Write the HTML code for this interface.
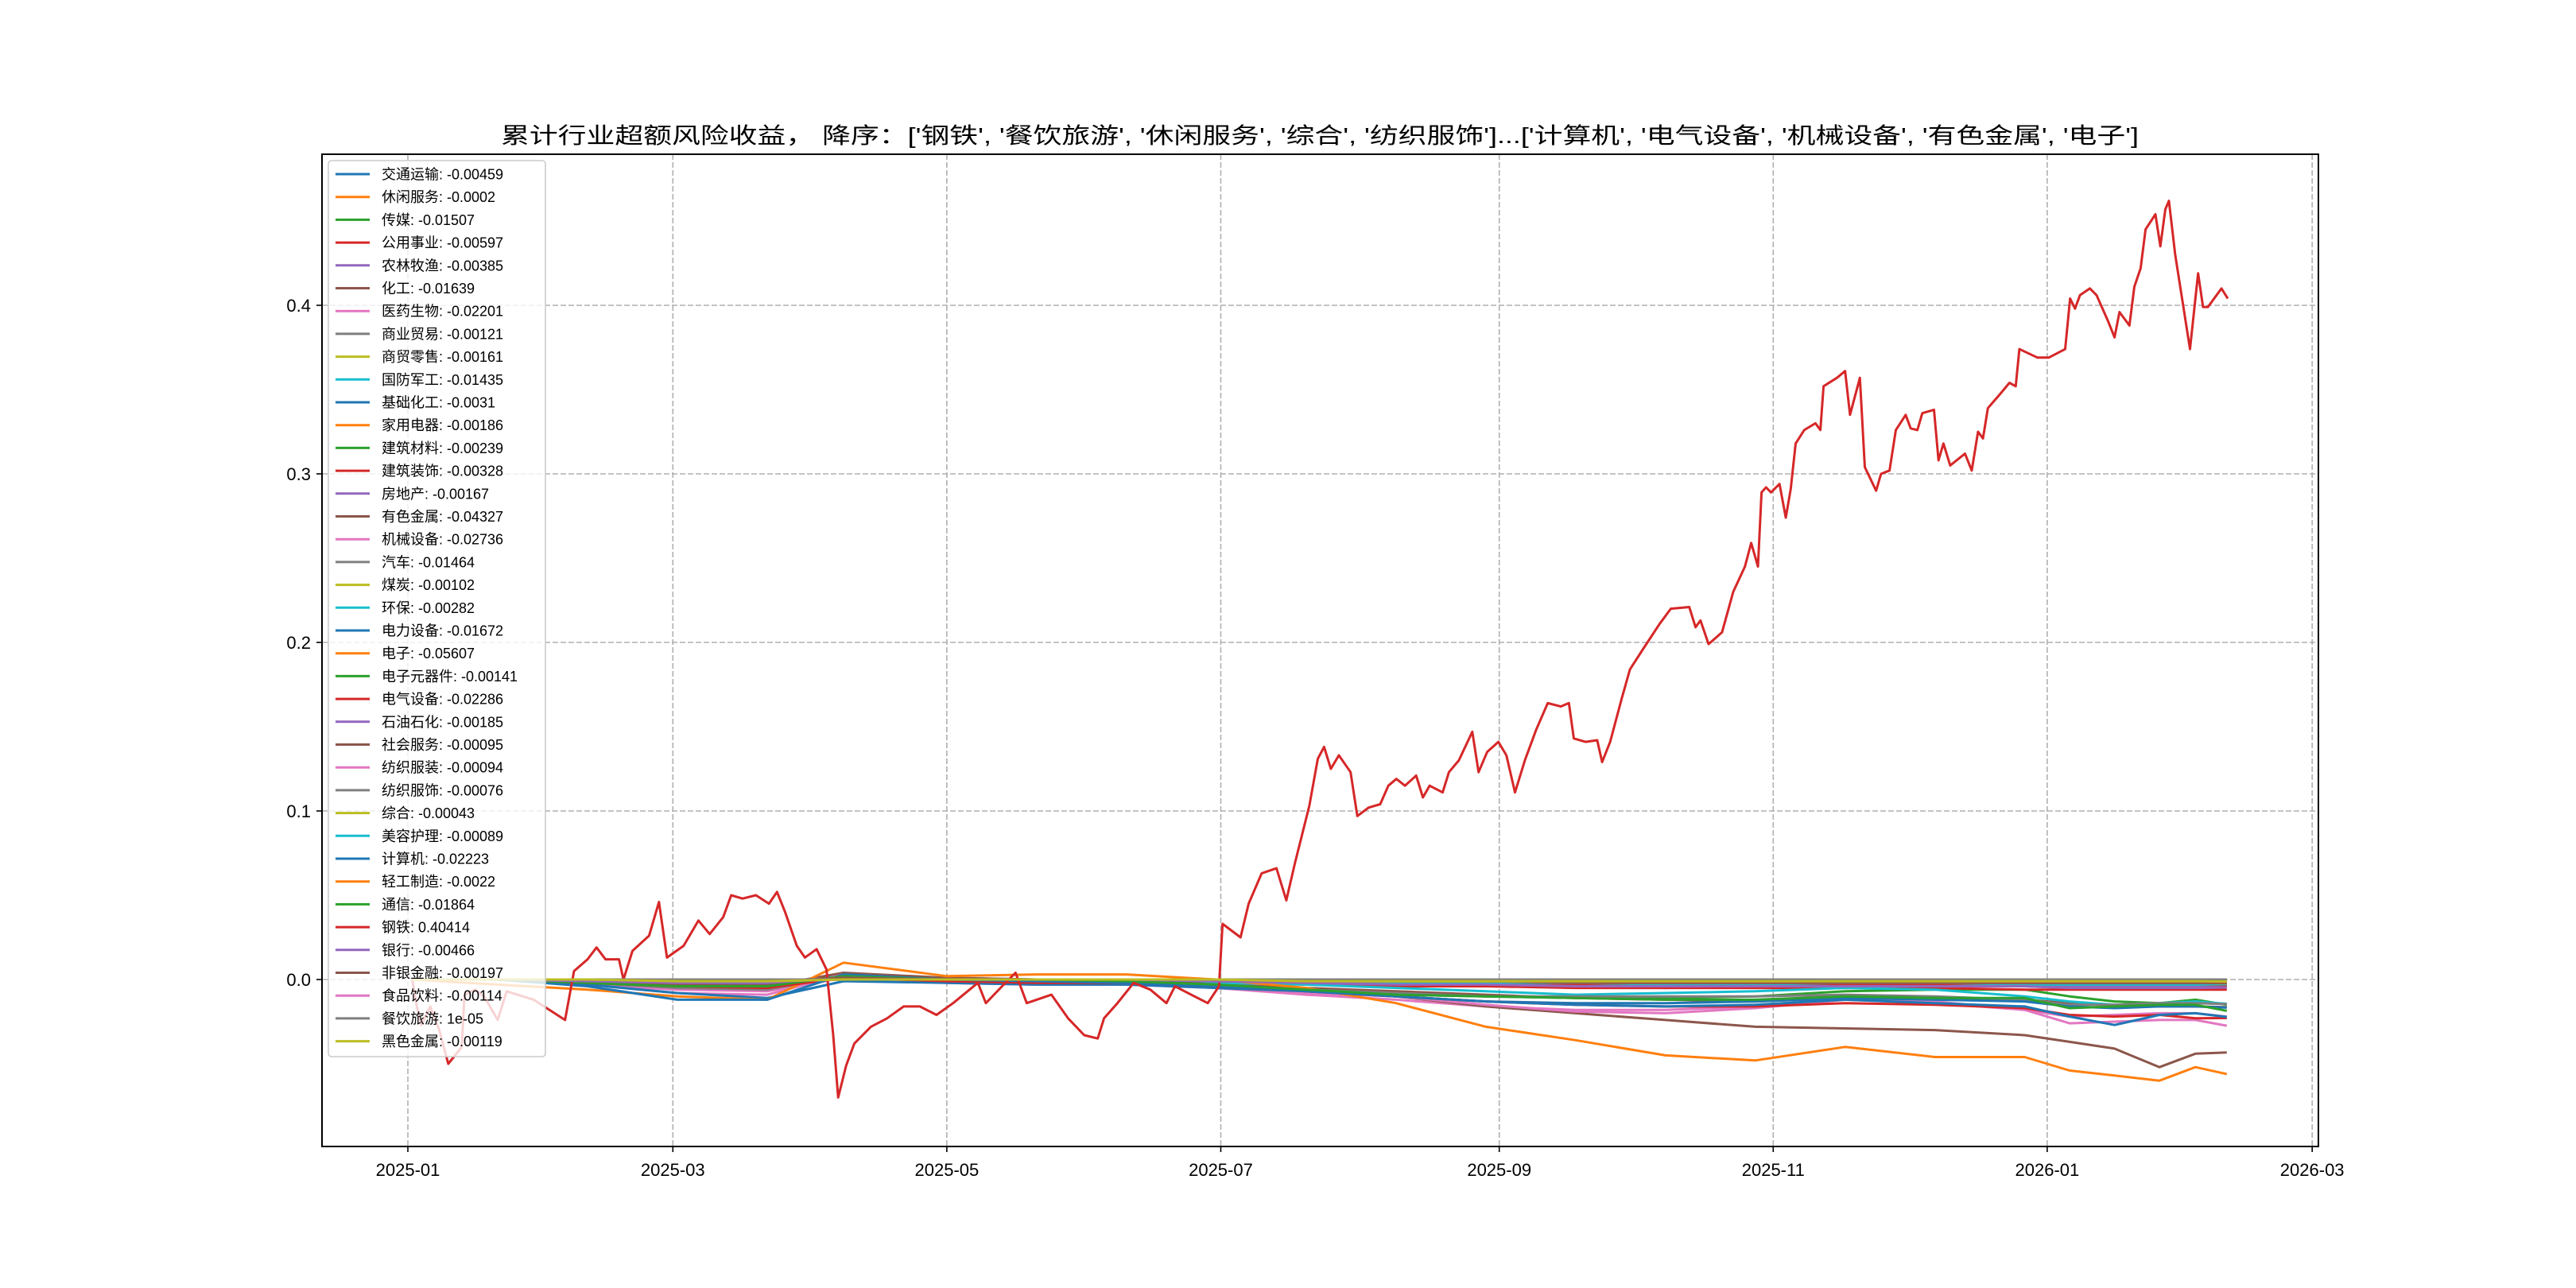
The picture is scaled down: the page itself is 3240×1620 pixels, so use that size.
<!DOCTYPE html>
<html><head><meta charset="utf-8"><title>累计行业超额风险收益</title>
<style>
html,body{margin:0;padding:0;background:#fff;}
svg{display:block;font-family:"Liberation Sans","Noto Sans CJK SC",sans-serif;}
</style></head>
<body>
<svg id="chart" width="3240" height="1620" viewBox="0 0 3240 1620" xmlns="http://www.w3.org/2000/svg">
<defs><clipPath id="plotclip"><rect x="405" y="194" width="2511" height="1248"/></clipPath></defs>
<rect x="0" y="0" width="3240" height="1620" fill="#fff"/>
<text x="1660" y="180" font-size="28" text-anchor="middle" textLength="2060" lengthAdjust="spacingAndGlyphs">累计行业超额风险收益，  降序：['钢铁', '餐饮旅游', '休闲服务', '综合', '纺织服饰']...['计算机', '电气设备', '机械设备', '有色金属', '电子']</text>
<g id="grid"></g>
<g id="series" clip-path="url(#plotclip)"></g>
<g id="axes"></g>
<g id="legend"></g>
</svg>
<script>
const xTickDays = [0, 59, 120, 181, 243, 304, 365, 424];
const xTickLabels = ['2025-01','2025-03','2025-05','2025-07','2025-09','2025-11','2026-01','2026-03'];
const yTickValues = [0, 0.1, 0.2, 0.3, 0.4];
const yTickLabels = ['0.0','0.1','0.2','0.3','0.4'];
const gridDays = [1,20,40,60,80,97,120,140,160,180,200,220,240,260,280,300,320,340,360,370,380,390,398,405];
const industryNames = ['交通运输','休闲服务','传媒','公用事业','农林牧渔','化工','医药生物','商业贸易','商贸零售','国防军工','基础化工','家用电器','建筑材料','建筑装饰','房地产','有色金属','机械设备','汽车','煤炭','环保','电力设备','电子','电子元器件','电气设备','石油石化','社会服务','纺织服装','纺织服饰','综合','美容护理','计算机','轻工制造','通信','钢铁','银行','非银金融','食品饮料','餐饮旅游','黑色金属'];
const finalLabels = ['-0.00459','-0.0002','-0.01507','-0.00597','-0.00385','-0.01639','-0.02201','-0.00121','-0.00161','-0.01435','-0.0031','-0.00186','-0.00239','-0.00328','-0.00167','-0.04327','-0.02736','-0.01464','-0.00102','-0.00282','-0.01672','-0.05607','-0.00141','-0.02286','-0.00185','-0.00095','-0.00094','-0.00076','-0.00043','-0.00089','-0.02223','-0.0022','-0.01864','0.40414','-0.00466','-0.00197','-0.00114','1e-05','-0.00119'];
const seriesValues = [
[0,0,-0.002,-0.004,-0.003,0.002,0,0,0,-0.001,-0.002,-0.003,-0.004,-0.004,-0.005,-0.004,-0.004,-0.004,-0.004,-0.005,-0.005,-0.005,-0.004,-0.0046],
[0,0,0,-0.001,-0.001,0.001,0,0,0,0,0,0,-0.001,-0.001,-0.001,0,0,0,0,0,0,0,0,-0.0002],
[0,0,-0.002,-0.004,-0.004,0.002,0,0,-0.001,-0.003,-0.006,-0.009,-0.01,-0.011,-0.011,-0.01,-0.007,-0.006,-0.006,-0.01,-0.013,-0.014,-0.012,-0.015],
[0,0,-0.001,-0.002,-0.002,0.001,0,-0.001,-0.001,-0.002,-0.003,-0.004,-0.004,-0.005,-0.005,-0.005,-0.005,-0.005,-0.006,-0.006,-0.006,-0.006,-0.006,-0.006],
[0,0,0,-0.001,-0.001,0.001,0.001,0,0,-0.001,-0.001,-0.002,-0.002,-0.003,-0.003,-0.003,-0.003,-0.003,-0.003,-0.004,-0.004,-0.004,-0.004,-0.0039],
[0,0,-0.002,-0.003,-0.003,0.002,0,0,-0.001,-0.003,-0.005,-0.007,-0.009,-0.011,-0.012,-0.013,-0.011,-0.011,-0.012,-0.014,-0.015,-0.016,-0.016,-0.0164],
[0,0,-0.003,-0.006,-0.007,0.001,-0.002,-0.003,-0.003,-0.005,-0.009,-0.012,-0.016,-0.018,-0.018,-0.016,-0.012,-0.014,-0.018,-0.022,-0.021,-0.02,-0.02,-0.022],
[0,0,0,-0.001,-0.001,0,0,0,0,0,-0.001,-0.001,-0.001,-0.001,-0.001,-0.001,-0.001,-0.001,-0.001,-0.001,-0.001,-0.001,-0.001,-0.0012],
[0,0,0,-0.001,-0.001,0,0,0,0,0,-0.001,-0.001,-0.001,-0.001,-0.002,-0.002,-0.001,-0.001,-0.002,-0.002,-0.002,-0.002,-0.002,-0.0016],
[0,0,-0.001,-0.002,-0.002,0.002,0,0,-0.001,-0.002,-0.003,-0.005,-0.007,-0.009,-0.008,-0.007,-0.005,-0.006,-0.01,-0.013,-0.015,-0.014,-0.013,-0.0144],
[0,0,-0.001,-0.002,-0.002,0.001,0,0,0,-0.001,-0.001,-0.002,-0.002,-0.003,-0.003,-0.003,-0.003,-0.003,-0.003,-0.003,-0.003,-0.003,-0.003,-0.0031],
[0,0,0,-0.001,-0.001,0.001,0,0,0,0,-0.001,-0.001,-0.001,-0.002,-0.002,-0.002,-0.002,-0.002,-0.002,-0.002,-0.002,-0.002,-0.002,-0.0019],
[0,0,0,-0.001,-0.001,0.001,0,0,0,-0.001,-0.001,-0.001,-0.002,-0.002,-0.002,-0.002,-0.002,-0.002,-0.002,-0.002,-0.002,-0.002,-0.002,-0.0024],
[0,0,-0.001,-0.001,-0.001,0.001,0,0,0,-0.001,-0.001,-0.002,-0.002,-0.003,-0.003,-0.003,-0.003,-0.003,-0.003,-0.003,-0.003,-0.003,-0.003,-0.0033],
[0,0,0,-0.001,-0.001,0.001,0,0,0,0,-0.001,-0.001,-0.001,-0.001,-0.002,-0.002,-0.002,-0.002,-0.002,-0.002,-0.002,-0.002,-0.002,-0.0017],
[0,0,-0.002,-0.003,-0.004,0.004,0.001,0,0,-0.003,-0.006,-0.01,-0.016,-0.02,-0.024,-0.028,-0.029,-0.03,-0.033,-0.037,-0.041,-0.052,-0.044,-0.0433],
[0,0,-0.003,-0.008,-0.009,0.003,-0.002,-0.003,-0.003,-0.004,-0.008,-0.01,-0.015,-0.019,-0.02,-0.017,-0.012,-0.013,-0.018,-0.026,-0.025,-0.024,-0.024,-0.0274],
[0,0,-0.002,-0.005,-0.006,0.002,-0.001,-0.002,-0.002,-0.004,-0.006,-0.008,-0.01,-0.01,-0.01,-0.01,-0.009,-0.01,-0.012,-0.015,-0.015,-0.014,-0.014,-0.0146],
[0,0,0,0,-0.001,0,0,0,0,0,0,-0.001,-0.001,-0.001,-0.001,-0.001,-0.001,-0.001,-0.001,-0.001,-0.001,-0.001,-0.001,-0.001],
[0,0,-0.001,-0.001,-0.001,0.001,0,0,0,-0.001,-0.001,-0.002,-0.002,-0.002,-0.003,-0.003,-0.002,-0.002,-0.003,-0.003,-0.003,-0.003,-0.003,-0.0028],
[0,0,-0.003,-0.008,-0.011,-0.001,-0.002,-0.003,-0.003,-0.005,-0.007,-0.01,-0.013,-0.014,-0.014,-0.013,-0.011,-0.012,-0.013,-0.016,-0.017,-0.016,-0.016,-0.0167],
[0,-0.003,-0.006,-0.01,-0.012,0.01,0.002,0.003,0.003,0,-0.005,-0.014,-0.028,-0.036,-0.045,-0.048,-0.04,-0.046,-0.046,-0.054,-0.057,-0.06,-0.052,-0.0561],
[0,0,0,-0.001,-0.001,0,0,0,0,0,-0.001,-0.001,-0.001,-0.001,-0.001,-0.001,-0.001,-0.001,-0.001,-0.001,-0.001,-0.001,-0.001,-0.0014],
[0,0,-0.002,-0.004,-0.005,0.001,-0.001,-0.002,-0.002,-0.004,-0.007,-0.01,-0.013,-0.015,-0.016,-0.016,-0.014,-0.015,-0.017,-0.021,-0.022,-0.021,-0.023,-0.0229],
[0,0,0,-0.001,-0.001,0.001,0,0,0,0,-0.001,-0.001,-0.001,-0.002,-0.002,-0.002,-0.002,-0.002,-0.002,-0.002,-0.002,-0.002,-0.002,-0.0019],
[0,0,0,0,-0.001,0,0,0,0,0,0,0,-0.001,-0.001,-0.001,-0.001,-0.001,-0.001,-0.001,-0.001,-0.001,-0.001,-0.001,-0.001],
[0,0,0,0,-0.001,0,0,0,0,0,0,0,-0.001,-0.001,-0.001,-0.001,-0.001,-0.001,-0.001,-0.001,-0.001,-0.001,-0.001,-0.0009],
[0,0,0,0,0,0,0,0,0,0,0,0,-0.001,-0.001,-0.001,-0.001,-0.001,-0.001,-0.001,-0.001,-0.001,-0.001,-0.001,-0.0008],
[0,0,0,0,0,0,0,0,0,0,0,0,0,0,0,0,0,0,0,0,0,0,0,-0.0004],
[0,0,0,0,-0.001,0,0,0,0,0,0,0,-0.001,-0.001,-0.001,-0.001,-0.001,-0.001,-0.001,-0.001,-0.001,-0.001,-0.001,-0.0009],
[0,0,-0.004,-0.012,-0.012,0.003,0,-0.001,-0.002,-0.004,-0.007,-0.01,-0.013,-0.015,-0.016,-0.015,-0.012,-0.014,-0.016,-0.022,-0.027,-0.021,-0.02,-0.0222],
[0,0,0,-0.001,-0.001,0.001,0,0,0,0,-0.001,-0.001,-0.001,-0.002,-0.002,-0.002,-0.002,-0.002,-0.002,-0.002,-0.002,-0.002,-0.002,-0.0022],
[0,0,-0.002,-0.004,-0.004,0.002,0,0,-0.001,-0.003,-0.006,-0.009,-0.01,-0.011,-0.012,-0.012,-0.01,-0.011,-0.011,-0.017,-0.016,-0.015,-0.015,-0.0186],
null,
[0,0,-0.001,-0.002,-0.002,0.001,0,0,0,-0.001,-0.002,-0.003,-0.003,-0.004,-0.004,-0.004,-0.004,-0.004,-0.004,-0.005,-0.005,-0.005,-0.005,-0.0047],
[0,0,0,-0.001,-0.001,0.001,0,0,0,0,-0.001,-0.001,-0.001,-0.002,-0.002,-0.002,-0.002,-0.002,-0.002,-0.002,-0.002,-0.002,-0.002,-0.002],
[0,0,0,-0.001,-0.001,0,0,0,0,0,-0.001,-0.001,-0.001,-0.001,-0.001,-0.001,-0.001,-0.001,-0.001,-0.001,-0.001,-0.001,-0.001,-0.0011],
[0,0,0,0,0,0,0,0,0,0,0,0,0,0,0,0,0,0,0,0,0,0,0,0.00001],
[0,0,0,-0.001,-0.001,0,0,0,0,0,-0.001,-0.001,-0.001,-0.001,-0.001,-0.001,-0.001,-0.001,-0.001,-0.001,-0.001,-0.001,-0.001,-0.0012]
];
const steelDays = [1,2,3,5,7,9,12,12.6,15,17,20,22,28,35,37,40,42,44,47,48,50,
53.7,55.9,57.7,61.4,64.7,67.2,70.2,72,74.5,77.5,80.4,82.2,84,86.6,88.4,91,93.2,94.7,95.8,97.6,99.4,103.1,106.7,110.4,114,117.7,121.4,126.9,128.7,132.3,135.3,137.8,143.3,147,150.6,153.6,155,158,161.6,165.3,168.9,170.8,174.4,178.1,180.6,
181.4,185.4,187.2,190.1,193.4,195.6,197.5,200.7,202.6,204,205.5,207.3,209.9,211.4,213.9,216.5,218.3,220.1,222,224.5,226,227.5,230.4,231.8,234,237,238.4,240.3,242.8,244.6,246.5,248.7,251.2,253.8,256.7,258.5,259.6,262.2,264.8,265.9,267.7,270.3,272.1,275,278.7,281.2,285.3,286.7,287.8,289.6,292.6,295.1,297.7,299.1,300.6,301.4,302.4,303.5,305.4,306.8,307.9,309,310.9,313.4,314.5,315.2,318.2,320,321.1,323.3,324.4,326.9,328,329.9,331.3,333.5,334.6,336.1,337.2,339.8,340.8,341.9,343.4,346.7,348.2,349.6,350.7,351.8,354.4,356.6,358,358.8,362.8,365.4,369,370.1,371.2,372.3,374.5,376,378.5,380,381.1,383.3,384.4,385.8,386.9,389.1,390.2,391.3,392.1,393.5,396.8,398.6,399.7,400.8,403.8,405.2];
const steelValues = [0,-0.016,-0.027,-0.016,-0.03,-0.05,-0.04,-0.009,-0.006,-0.01,-0.024,-0.007,-0.012,-0.024,0.005,0.012,0.019,0.012,0.012,0.0,0.017,
0.026,0.046,0.013,0.020,0.035,0.027,0.037,0.050,0.048,0.050,0.045,0.052,0.040,0.020,0.013,0.018,0.006,-0.033,-0.070,-0.051,-0.038,-0.028,-0.023,-0.016,-0.016,-0.021,-0.014,-0.002,-0.014,-0.004,0.004,-0.014,-0.009,-0.023,-0.033,-0.035,-0.023,-0.014,-0.002,-0.006,-0.014,-0.004,-0.009,-0.014,-0.004,
0.033,0.025,0.045,0.063,0.066,0.047,0.069,0.103,0.131,0.138,0.125,0.133,0.123,0.097,0.102,0.104,0.115,0.119,0.115,0.121,0.108,0.115,0.111,0.123,0.130,0.147,0.123,0.135,0.141,0.133,0.111,0.130,0.148,0.164,0.162,0.164,0.143,0.141,0.142,0.129,0.141,0.167,0.184,0.196,0.211,0.220,0.221,0.209,0.213,0.199,0.206,0.230,0.245,0.259,0.245,0.289,0.292,0.289,0.294,0.274,0.291,0.318,0.326,0.330,0.326,0.352,0.357,0.361,0.335,0.357,0.304,0.290,0.300,0.302,0.326,0.335,0.327,0.326,0.336,0.338,0.308,0.318,0.305,0.312,0.302,0.325,0.321,0.339,0.347,0.354,0.352,0.374,0.369,0.369,0.374,0.404,0.398,0.406,0.410,0.406,0.391,0.381,0.396,0.388,0.411,0.422,0.445,0.454,0.435,0.457,0.462,0.430,0.374,0.419,0.399,0.399,0.410,0.404];
const palette = ['#1f77b4','#ff7f0e','#2ca02c','#d62728','#9467bd','#8c564b','#e377c2','#7f7f7f','#bcbd22','#17becf'];

const NS = 'http://www.w3.org/2000/svg';
const AX = {l:405, r:2916, t:194, b:1442};
function xScale(d){ return 513 + d * 5.649; }
function yScale(v){ return 1232 - v * 2120; }
function mk(tag, attrs, parent){ const e = document.createElementNS(NS, tag); for (const k in attrs) e.setAttribute(k, attrs[k]); parent.appendChild(e); return e; }

const grid = document.getElementById('grid');
const axes = document.getElementById('axes');
const seriesG = document.getElementById('series');
const legend = document.getElementById('legend');

xTickDays.forEach((d, i) => {
  const x = xScale(d);
  const gl = mk('line', {x1:x, x2:x, y1:AX.t, y2:AX.b, stroke:'#b0b0b0', 'stroke-width':1.6, 'stroke-dasharray':'7,3'}, grid);
  
  
  const tk = mk('line', {x1:x, x2:x, y1:AX.b, y2:AX.b+7, stroke:'#000', 'stroke-width':1.6}, axes);
  
  
  const tl = mk('text', {x:x, y:AX.b+37, 'font-size':22, 'text-anchor':'middle'}, axes);
  tl.textContent = xTickLabels[i];
  
  
});
yTickValues.forEach((v, i) => {
  const y = yScale(v);
  const gl = mk('line', {x1:AX.l, x2:AX.r, y1:y, y2:y, stroke:'#b0b0b0', 'stroke-width':1.6, 'stroke-dasharray':'7,3'}, grid);
  
  
  const tk = mk('line', {x1:AX.l-7, x2:AX.l, y1:y, y2:y, stroke:'#000', 'stroke-width':1.6}, axes);
  
  
  const tl = mk('text', {x:AX.l-14, y:y+8, 'font-size':22, 'text-anchor':'end'}, axes);
  tl.textContent = yTickLabels[i];
  
  
});
const frame = mk('rect', {x:AX.l, y:AX.t, width:AX.r-AX.l, height:AX.b-AX.t, fill:'none', stroke:'#000', 'stroke-width':2}, axes);



industryNames.forEach((name, i) => {
  let days, vals;
  if (seriesValues[i] === null) { days = steelDays; vals = steelValues; }
  else { days = gridDays; vals = seriesValues[i]; }
  const pts = days.map((d, j) => xScale(d).toFixed(1) + ',' + yScale(vals[j]).toFixed(1)).join(' ');
  const pl = mk('polyline', {points:pts, fill:'none', stroke:palette[i % 10], 'stroke-width':3, 'stroke-linejoin':'round'}, seriesG);
  
  
});

// legend
const LX = 413, LY = 202, LW = 273, LH = 1127, STEP = 28.7, FIRST = 219;
const lbox = mk('rect', {x:LX, y:LY, width:LW, height:LH, rx:4, fill:'rgba(255,255,255,0.8)', stroke:'#cccccc', 'stroke-width':1.6}, legend);


industryNames.forEach((name, i) => {
  const cy = FIRST + i * STEP;
  const g = mk('g', {}, legend);
  
  
  mk('line', {x1:422, x2:465, y1:cy, y2:cy, stroke:palette[i % 10], 'stroke-width':3}, g);
  const t = mk('text', {x:480, y:cy+6.5, 'font-size':18}, g);
  t.textContent = name + ': ' + finalLabels[i];
});
</script>
</body></html>
